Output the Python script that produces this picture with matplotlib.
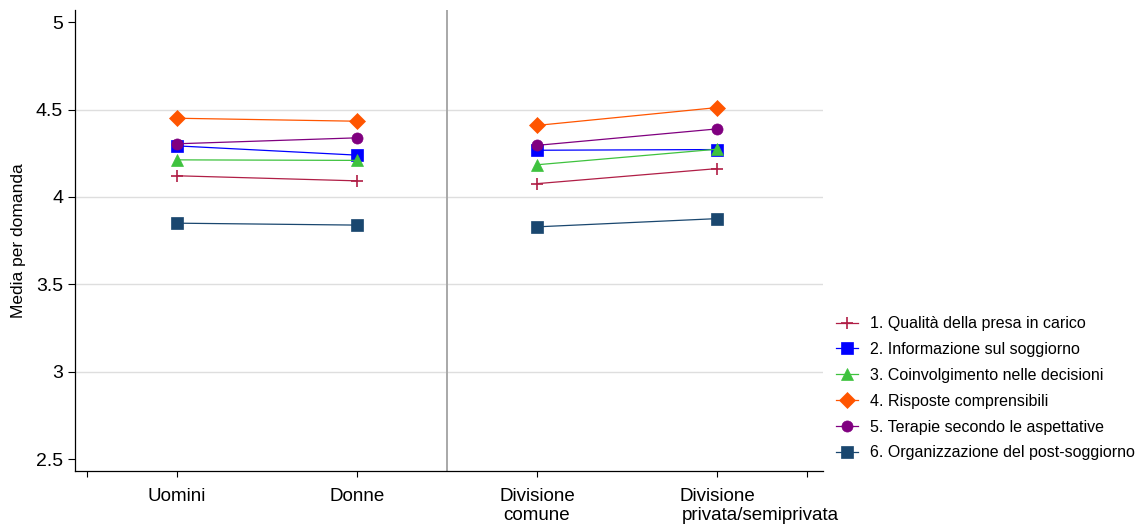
import matplotlib
matplotlib.use('Agg')
import matplotlib.pyplot as plt

plt.rcParams['font.family'] = ['Liberation Sans', 'DejaVu Sans']

# dati
gruppi = ['Uomini', 'Donne', 'Divisione\ncomune', 'Divisione']
seconda_riga = 'privata/semiprivata'
x_pos = [1, 2, 3, 4]

domande = ['1. Qualità della presa in carico',
           '2. Informazione sul soggiorno',
           '3. Coinvolgimento nelle decisioni',
           '4. Risposte comprensibili',
           '5. Terapie secondo le aspettative',
           '6. Organizzazione del post-soggiorno']

q1 = [4.121, 4.092, 4.076, 4.162]
q2 = [4.292, 4.239, 4.267, 4.271]
q3 = [4.212, 4.209, 4.184, 4.273]
q4 = [4.450, 4.433, 4.409, 4.511]
q5 = [4.304, 4.338, 4.295, 4.389]
q6 = [3.850, 3.839, 3.829, 3.876]

y_ticks = [2.5, 3, 3.5, 4, 4.5, 5]
y_labels = ['2.5', '3', '3.5', '4', '4.5', '5']

serie = [q1, q2, q3, q4, q5, q6]
colori = ['#B01E46', '#0000FF', '#3EC23E', '#FF5500', '#800080', '#1A476F']
marker = ['+', 's', '^', 'D', 'o', 's']
msize = [8, 8, 9, 8, 8, 8]

fig = plt.figure(figsize=(11.36, 5.26), dpi=100)
ax = fig.add_axes([0.066, 0.1046, 0.6585, 0.8764])

for v in y_ticks[1:-1]:
    ax.axhline(v, color='#DEDEDE', lw=1.0, zorder=0)
ax.axvline(2.5, color='#A8A8A8', lw=1.4, zorder=1)

handles = []
for vals, c, m, ms, lab in zip(serie, colori, marker, msize, domande):
    h, = ax.plot(x_pos[:2], vals[:2], color=c, marker=m, markersize=ms, lw=0.9,
                 markeredgewidth=1.2 if m == '+' else 0.5, label=lab, zorder=3)
    ax.plot(x_pos[2:], vals[2:], color=c, marker=m, markersize=ms, lw=0.9,
            markeredgewidth=1.2 if m == '+' else 0.5, zorder=3)
    handles.append(h)

ax.set_xlim(0.433, 4.589)
ax.set_ylim(2.433, 5.069)
ax.set_yticks(y_ticks, y_labels, fontsize=14)
ax.set_xticks([0.5] + x_pos + [4.5], [''] + gruppi + [''], fontsize=13.5)
ax.tick_params(axis='y', length=5, width=0.8, pad=3.5)
ax.tick_params(axis='x', length=4.5, width=0.8, pad=7.5)
ax.set_ylabel('Media per domanda', fontsize=12.5, labelpad=7)

for s in ['top', 'right']:
    ax.spines[s].set_visible(False)
for s in ['left', 'bottom']:
    ax.spines[s].set_linewidth(0.9)

fig.legend(handles=handles, loc='upper left', bbox_to_anchor=(0.736, 0.399),
           frameon=False, fontsize=11.5, borderpad=0, borderaxespad=0,
           handlelength=1.4, handletextpad=0.7, labelspacing=0.68)

# seconda riga dell'ultima etichetta, allineata a sinistra con "Divisione"
fig.canvas.draw()
lbl = ax.get_xticklabels()[4]
bb = lbl.get_window_extent()
fig.text(bb.x0 / fig.bbox.width + 0.002, bb.y0 / fig.bbox.height - 0.004,
         seconda_riga, fontsize=13.5, ha='left', va='top')

fig.savefig('out.png', dpi=100)
